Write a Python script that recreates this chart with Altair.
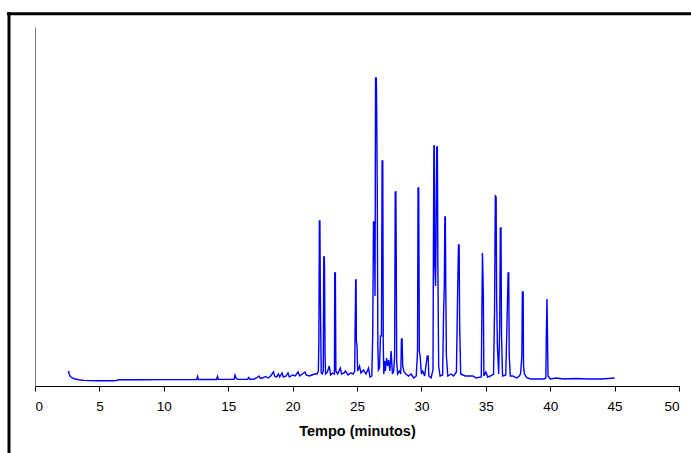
import altair as alt
import pandas as pd

# Retention time (minutes) and detector signal (arbitrary units)
rt = [
    2.60, 2.65, 2.75, 2.90, 3.10, 3.40, 3.80, 4.20, 5.00, 6.00, 6.35, 6.45, 8.00, 10.00,
    12.55, 12.62, 12.68, 14.10, 14.17, 14.24, 15.45, 15.53, 15.62, 15.75, 16.50, 16.60, 16.70,
    17.00, 17.20, 17.40, 17.50, 17.75, 17.90, 18.10, 18.30, 18.45, 18.52, 18.60, 18.75, 18.90,
    19.00, 19.18, 19.28, 19.50, 19.64, 19.75, 20.00, 20.20, 20.42, 20.55, 20.75, 20.96, 21.05,
    21.30, 21.50, 21.70, 21.90, 22.00, 22.04, 22.08, 22.12, 22.15, 22.18, 22.22, 22.30, 22.38,
    22.42, 22.46, 22.48, 22.52, 22.56, 22.70, 22.85, 22.95, 23.10, 23.25, 23.27, 23.32, 23.36,
    23.50, 23.70, 23.80, 24.00, 24.10, 24.30, 24.50, 24.70, 24.82, 24.86, 24.90, 24.93, 24.95,
    25.00, 25.05, 25.20, 25.30, 25.50, 25.70, 25.90, 26.00, 26.15, 26.22, 26.28, 26.31, 26.33,
    26.36, 26.40, 26.44, 26.50, 26.53, 26.57, 26.62, 26.66, 26.75, 26.82, 26.90, 26.95, 27.00,
    27.04, 27.08, 27.15, 27.20, 27.30, 27.38, 27.45, 27.55, 27.65, 27.75, 27.85, 27.92, 27.97,
    28.02, 28.05, 28.08, 28.15, 28.30, 28.40, 28.45, 28.50, 28.55, 28.65, 28.80, 29.00, 29.20,
    29.40, 29.60, 29.70, 29.74, 29.79, 29.84, 29.90, 30.00, 30.10, 30.25, 30.45, 30.52, 30.58,
    30.75, 30.90, 30.93, 30.97, 31.00, 31.04, 31.10, 31.14, 31.19, 31.24, 31.28, 31.34, 31.45,
    31.65, 31.72, 31.78, 31.82, 31.86, 31.89, 31.94, 32.05, 32.30, 32.50, 32.72, 32.82, 32.88,
    32.93, 32.97, 33.05, 33.40, 33.80, 34.00, 34.25, 34.65, 34.70, 34.74, 34.78, 34.81, 34.85,
    35.00, 35.15, 35.35, 35.60, 35.68, 35.74, 35.80, 35.84, 35.90, 36.00, 36.08, 36.13, 36.18,
    36.22, 36.30, 36.55, 36.65, 36.73, 36.78, 36.82, 36.90, 37.10, 37.40, 37.60, 37.70, 37.80,
    37.84, 37.90, 37.93, 38.00, 38.20, 38.50, 39.00, 39.50, 39.66, 39.70, 39.75, 39.79, 39.83,
    40.00, 40.50, 41.00, 42.00, 43.00, 44.00, 45.00,
]
signal = [
    15, 12, 9.5, 8, 7, 6.2, 5.6, 5.4, 5.3, 5.3, 5.4, 6.2, 6.3, 6.4,
    6.4, 9.5, 6.5, 6.5, 9.5, 6.6, 6.6, 11, 7.5, 6.6, 6.8, 8.5, 6.6,
    7, 8, 10, 7.5, 8.5, 9.5, 8, 10, 13, 14, 10, 9, 12,
    9, 13, 9, 10, 13, 9, 11, 10, 14, 10, 12, 14, 11,
    10, 11, 12, 12, 15, 45, 165, 165, 100, 60, 13, 12, 15,
    129, 129, 118, 30, 12, 14, 20, 11, 13, 12, 113, 113, 15,
    12, 18, 12, 13, 15, 11, 13, 12, 15, 63, 106, 106, 45,
    40, 15, 20, 13, 16, 12, 18, 9, 10, 50, 164, 164, 125,
    160, 90, 308, 308, 275, 200, 40, 16, 18, 50, 50, 225, 225,
    40, 12, 25, 15, 28, 20, 26, 15, 35, 12, 15, 30, 194,
    194, 120, 25, 12, 15, 12, 47, 47, 20, 14, 12, 10, 12,
    8, 10, 35, 198, 198, 35, 30, 12, 15, 10, 30, 30, 10,
    8, 16, 130, 240, 240, 120, 100, 150, 239, 239, 120, 20, 10,
    11, 72, 100, 169, 169, 105, 30, 10, 12, 10, 14, 100, 141,
    141, 60, 12, 10, 10, 10, 8, 9, 80, 133, 110, 90, 10,
    14, 9, 10, 12, 75, 190, 189, 90, 40, 12, 60, 158, 158,
    50, 10, 11, 65, 113, 113, 30, 10, 10, 8, 10, 12, 30,
    94, 94, 20, 12, 8, 7, 7, 7, 8, 50, 87, 50, 10,
    7, 8, 7, 7.5, 7, 7, 8,
]

x_ticks = [0, 5, 10, 15, 20, 25, 30, 35, 40, 45, 50]

df = pd.DataFrame({"rt": rt, "signal": signal})

W, H = 644, 359
PAD_L, PAD_T = 35, 27

line = alt.Chart(df).mark_line(color="#0000ff", strokeWidth=1.4, clip=True).encode(
    x=alt.X(
        "rt:Q",
        scale=alt.Scale(domain=[0, 50], nice=False, zero=False),
        axis=alt.Axis(
            values=x_ticks,
            title="Tempo (minutos)",
            grid=False,
            domainColor="#000000",
            tickColor="#000000",
            tickSize=5,
            labelFont="Liberation Sans",
            labelFontSize=13.5,
            labelColor="#000000",
            labelPadding=8,
            titleFont="Liberation Sans",
            titleFontSize=14.5,
            titleFontWeight="bold",
            titleColor="#000000",
            titlePadding=12,
        ),
    ),
    y=alt.Y(
        "signal:Q",
        scale=alt.Scale(domain=[0, 359], nice=False),
        axis=alt.Axis(
            title=None,
            labels=False,
            ticks=False,
            grid=False,
            domainColor="#808080",
        ),
    ),
)

one = alt.Data(values=[{"k": 1}])
frame_top = alt.Chart(one).mark_rule(color="#000000", strokeWidth=3).encode(
    x=alt.value(7 - PAD_L), x2=alt.value(700 - PAD_L), y=alt.value(13.8 - PAD_T)
)
frame_left = alt.Chart(one).mark_rule(color="#000000", strokeWidth=3).encode(
    x=alt.value(9 - PAD_L), y=alt.value(12.3 - PAD_T), y2=alt.value(460 - PAD_T)
)

chart = (
    alt.layer(line, frame_top, frame_left)
    .properties(
        width=W,
        height=H,
        autosize=alt.AutoSizeParams(type="none"),
        padding={"left": PAD_L, "top": PAD_T, "right": 691 - PAD_L - W, "bottom": 453 - PAD_T - H},
        background="#ffffff",
    )
    .configure_view(stroke=None)
)

chart.save("out.html", embed_options={"renderer": "svg", "actions": False})
